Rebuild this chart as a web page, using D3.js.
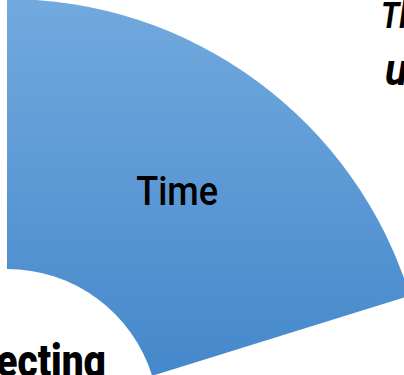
<!DOCTYPE html>
<html>
<head>
<meta charset="utf-8">
<script src="https://cdn.jsdelivr.net/npm/d3@7/dist/d3.min.js"></script>
<style>
  html, body { margin: 0; padding: 0; background: #fff; overflow: hidden; }
  svg { display: block; }
</style>
</head>
<body>
<svg id="chart" width="404" height="375"></svg>
<script>
// Ring segment shares (percent of the full circle)
const categories = ["Time"];
const shares = [20.2];

// Other labels around the ring
const centerLabel = "Reflecting";
const sideLabels = ["The", "us"];

const width = 404, height = 375;
const cx = 7, cy = 421;
const innerR = 152, outerR = 422;
const fontStack = "Roboto, 'DejaVu Sans', sans-serif";

const svg = d3.select("#chart");

// vertical gradient, expressed in the ring group's own coordinates
const defs = svg.append("defs");
const grad = defs.append("linearGradient")
  .attr("id", "segFill")
  .attr("gradientUnits", "userSpaceOnUse")
  .attr("x1", 0).attr("y1", -cy).attr("x2", 0).attr("y2", height - cy);
grad.append("stop").attr("offset", "0%").attr("stop-color", "#72a9de");
grad.append("stop").attr("offset", "100%").attr("stop-color", "#4588cb");

const angle = d3.scaleLinear().domain([0, 100]).range([0, 2 * Math.PI]);

let acc = 0;
const segments = categories.map((c, i) => {
  const s = { name: c, startAngle: angle(acc), endAngle: angle(acc + shares[i]) };
  acc += shares[i];
  return s;
});

const arc = d3.arc().innerRadius(innerR).outerRadius(outerR);

const g = svg.append("g").attr("transform", `translate(${cx},${cy})`);

g.selectAll("path.seg")
  .data(segments)
  .join("path")
  .attr("class", "seg")
  .attr("d", arc)
  .attr("fill", "url(#segFill)");

g.selectAll("text.seg-label")
  .data(segments)
  .join("text")
  .attr("class", "seg-label")
  .attr("transform", d => `translate(${arc.centroid(d)}) scale(0.88,1)`)
  .attr("text-anchor", "middle")
  .attr("dy", "0.36em")
  .attr("font-family", fontStack)
  .attr("font-weight", 500)
  .attr("font-size", 41)
  .attr("fill", "#000")
  .text(d => d.name);

// centre label
svg.append("text")
  .attr("transform", "translate(106,377) scale(0.845,1)")
  .attr("text-anchor", "end")
  .attr("font-family", fontStack)
  .attr("font-weight", 900)
  .attr("font-size", 46)
  .attr("fill", "#000")
  .text(centerLabel);

// labels to the upper right
svg.append("text")
  .attr("transform", "translate(381,28) scale(0.85,1)")
  .attr("font-family", fontStack)
  .attr("font-weight", "bold")
  .attr("font-style", "italic")
  .attr("font-size", 36)
  .attr("fill", "#000")
  .text(sideLabels[0]);

svg.append("text")
  .attr("transform", "translate(385,85) scale(0.9,1)")
  .attr("font-family", fontStack)
  .attr("font-weight", "bold")
  .attr("font-style", "italic")
  .attr("font-size", 46)
  .attr("fill", "#000")
  .text(sideLabels[1]);
</script>
</body>
</html>
